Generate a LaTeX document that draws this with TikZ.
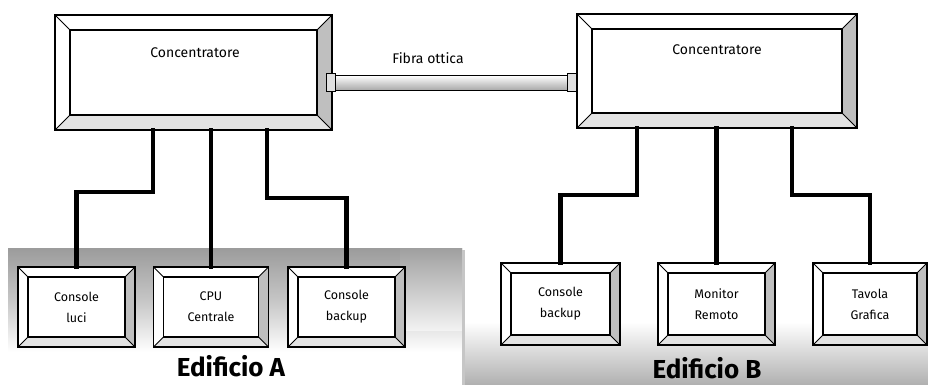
\documentclass[tikz,border=0pt]{standalone}
\usepackage{fontspec}
\setmainfont{Fira Sans}
\usetikzlibrary{calc}
\begin{document}
\begin{tikzpicture}[x=1pt,y=-1pt,
  wire/.style={line width=4.5pt,line cap=rect,black},
  bevelgen/.style={draw=black,line width=1.3pt,fill=white,inner sep=0pt,
    align=center,font=\fontsize{12.5}{21}\selectfont,
    path picture={
      \coordinate (pnw) at (path picture bounding box.north west);
      \coordinate (pne) at (path picture bounding box.north east);
      \coordinate (psw) at (path picture bounding box.south west);
      \coordinate (pse) at (path picture bounding box.south east);
      \coordinate (inw) at ($(pnw)+(#1,-#1)$);
      \coordinate (ine) at ($(pne)+(-#1,-#1)$);
      \coordinate (isw) at ($(psw)+(#1,#1)$);
      \coordinate (ise) at ($(pse)+(-#1,#1)$);
      \fill[gray!50] (pne) -- (pse) -- (ise) -- (ine) -- cycle;
      \fill[gray!22] (psw) -- (pse) -- (ise) -- (isw) -- cycle;
      \draw[line width=1.1pt] (inw) rectangle (ise);
      \draw[line width=0.9pt] (pnw) -- (inw) (pne) -- (ine) (psw) -- (isw) (pse) -- (ise);
    }},
  bigbox/.style={bevelgen=15pt},
  smallbox/.style={bevelgen=10pt},
  lbl/.style={font=\fontsize{14}{16}\selectfont},
  building/.style={font=\fontsize{26}{28}\selectfont\bfseries}
]
\useasboundingbox (0,0) rectangle (928,385);
% ground shading
\shade[top color=gray!78,bottom color=white,middle color=gray!45] (8,248) rectangle (462,352);
\shade[top color=gray!75,bottom color=gray!10] (400,248) rectangle (462,330);
\shade[top color=white,bottom color=gray!62] (462,322) rectangle (928,385);
\fill[gray!45] (462,250) rectangle (465,385);

% concentrators
\node[bigbox,minimum width=277pt,minimum height=115pt] (cA) at (193.5,72.5) {};
\node[lbl] (cAt) at (195,53) {Concentratore};
\node[bigbox,minimum width=280pt,minimum height=114pt] (cB) at (717,71) {};
\node[lbl] (cBt) at (717,50) {Concentratore};

% fibre
\node[draw=black,line width=1.2pt,minimum width=238pt,minimum height=15pt,inner sep=0pt,
  top color=white,bottom color=gray!70] (fib) at (452,83) {};
\node[draw=black,line width=1pt,fill=gray!25,minimum width=9pt,minimum height=18pt,inner sep=0pt] (capA) at (331,83) {};
\node[draw=black,line width=1pt,fill=gray!25,minimum width=9pt,minimum height=18pt,inner sep=0pt] (capB) at (572,83) {};
\node[lbl] (fibt) at (428,58) {Fibra ottica};

% building A boxes
\node[smallbox,minimum width=117pt,minimum height=80pt] (a1) at (76.5,307) {Console\\luci};
\node[smallbox,minimum width=115pt,minimum height=80pt] (a2) at (211,307) {CPU\\Centrale};
\node[smallbox,minimum width=117pt,minimum height=80pt] (a3) at (346.5,307) {Console\\backup};
% building B boxes
\node[smallbox,minimum width=119pt,minimum height=82pt] (b1) at (560.5,304) {Console\\backup};
\node[smallbox,minimum width=117pt,minimum height=82pt] (b2) at (716.5,304) {Monitor\\Remoto};
\node[smallbox,minimum width=114pt,minimum height=82pt] (b3) at (870,304) {Tavola\\Grafica};

% wires A
\coordinate (ka1) at (153,192);
\coordinate (ka3) at (267,198);
\draw[wire] (cA.south -| ka1) -- (ka1) -| (a1.north);
\draw[wire] (cA.south -| a2.north) -- (a2.north);
\draw[wire] (cA.south -| ka3) -- (ka3) -| (a3.north);
% wires B
\coordinate (kb1) at (637,195);
\coordinate (kb3) at (792,195);
\draw[wire] (cB.south -| kb1) -- (kb1) -| (b1.north);
\draw[wire] (cB.south -| b2.north) -- (b2.north);
\draw[wire] (cB.south -| kb3) -- (kb3) -| (b3.north);

% building labels
\node[building] (eA) at (231,366) {Edificio A};
\node[building] (eB) at (707,368) {Edificio B};
\end{tikzpicture}
\end{document}
